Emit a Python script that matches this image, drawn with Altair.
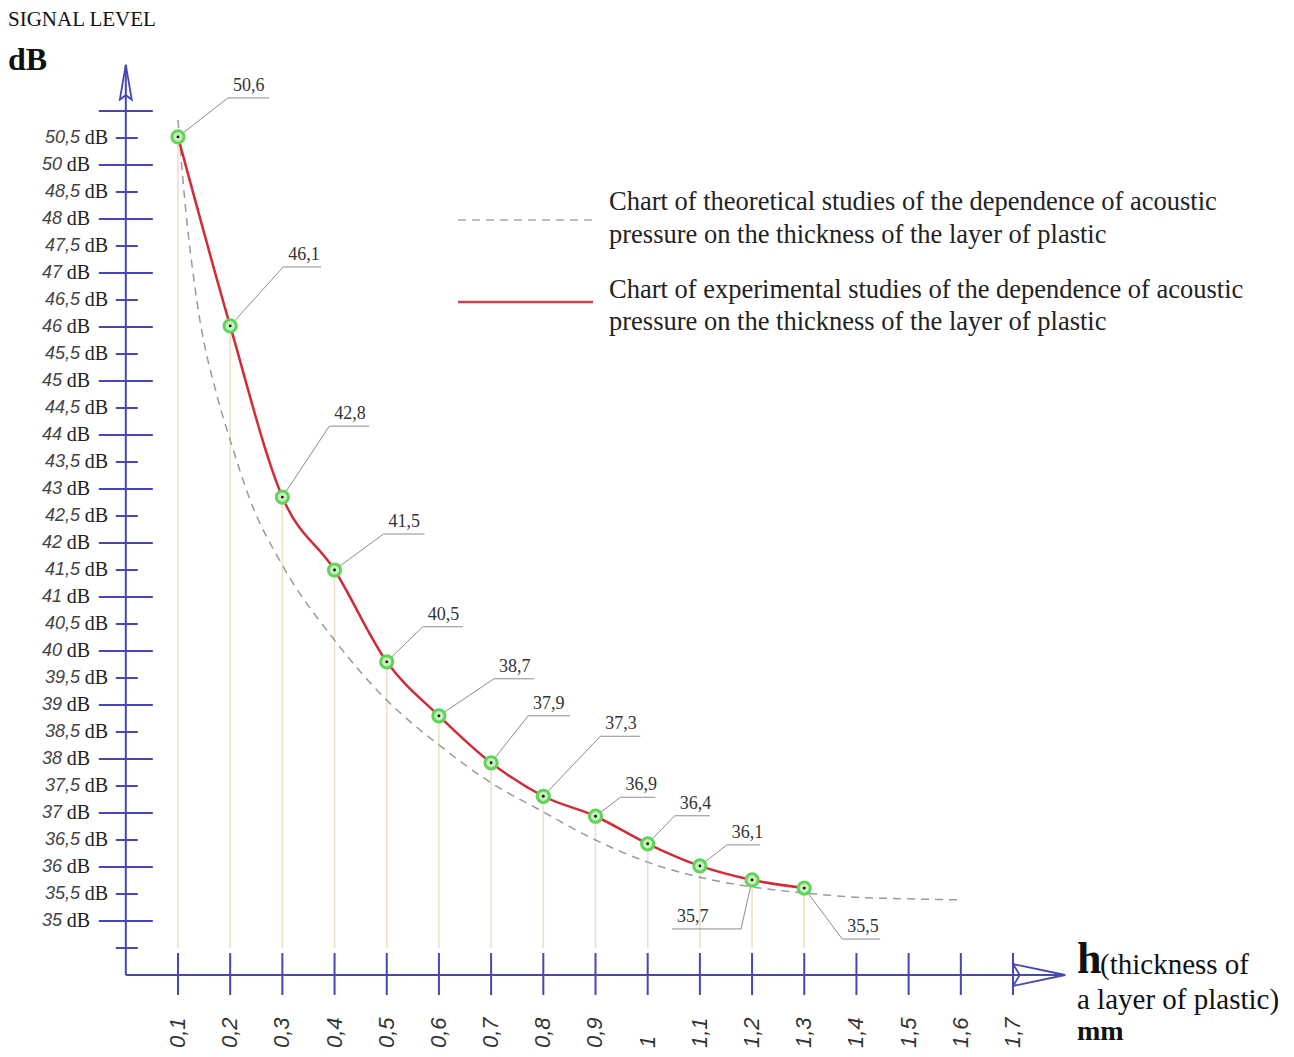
import altair as alt
import pandas as pd
import numpy as np

# ---------------- data ----------------
THICKNESS = [0.1, 0.2, 0.3, 0.4, 0.5, 0.6, 0.7, 0.8, 0.9, 1.0, 1.1, 1.2, 1.3]
EXPERIMENT_DB = [50.52, 46.02, 42.85, 41.5, 39.8, 38.8, 37.93, 37.31, 36.94, 36.43, 36.02, 35.76, 35.61]
CALLOUT_TEXT = ["50,6", "46,1", "42,8", "41,5", "40,5", "38,7", "37,9", "37,3", "36,9", "36,4", "36,1", "35,7", "35,5"]

THEORY_H = [0.1, 0.113, 0.136, 0.177, 0.2, 0.238, 0.3, 0.4, 0.5, 0.6, 0.7, 0.8, 0.9, 1.0, 1.1, 1.2, 1.3, 1.4, 1.5, 1.6]
THEORY_DB = [50.83, 48.35, 46.5, 44.65, 43.91, 42.8, 41.59, 40.2, 39.09, 38.26, 37.56, 37.02, 36.5, 36.09,
             35.81, 35.63, 35.52, 35.44, 35.41, 35.39]

Y_TICKS = [51, 50.5, 50, 48.5, 48, 47.5, 47, 46.5, 46, 45.5, 45, 44.5, 44, 43.5, 43, 42.5, 42, 41.5, 41,
           40.5, 40, 39.5, 39, 38.5, 38, 37.5, 37, 36.5, 36, 35.5, 35, 34.5]
Y_TICK_LABELS = ["", "50,5", "50", "48,5", "48", "47,5", "47", "46,5", "46", "45,5", "45", "44,5", "44",
                 "43,5", "43", "42,5", "42", "41,5", "41", "40,5", "40", "39,5", "39", "38,5", "38", "37,5",
                 "37", "36,5", "36", "35,5", "35", ""]
X_TICKS = [0.1, 0.2, 0.3, 0.4, 0.5, 0.6, 0.7, 0.8, 0.9, 1.0, 1.1, 1.2, 1.3, 1.4, 1.5, 1.6, 1.7]
X_TICK_LABELS = ["0,1", "0,2", "0,3", "0,4", "0,5", "0,6", "0,7", "0,8", "0,9", "1", "1,1", "1,2", "1,3",
                 "1,4", "1,5", "1,6", "1,7"]

LEGEND_THEORY = ["Chart of theoretical studies of the dependence of acoustic",
                 "pressure on the thickness of the layer of plastic"]
LEGEND_EXPER = ["Chart of experimental studies of the dependence of acoustic",
                "pressure on the thickness of the layer of plastic"]

# ---------------- layout / style ----------------
W, H = 1278, 1041
X_PX0, X_PX1 = 117.8, 1005.0          # pixel of h=0 and h=1.7
X_PER_UNIT = (X_PX1 - X_PX0) / 1.7
Y_TOP, Y_STEP = 103.0, 27.0           # pixel of the first y tick and spacing
AXIS_H_DB = 34.0                      # level where the h axis sits
AXIS_TOP_DB = 51.85
AXIS_RIGHT_H = 1.8

# callout elbows (pixel offsets from point) and underline length (negative = to the left)
CALLOUT_ELBOW = [(50, -39), (53, -59), (47, -71), (49, -36), (36, -35), (55, -37), (37, -47), (57, -60),
                 (25, -19), (27, -28), (27, -21), (-11, 49), (38, 51)]
CALLOUT_LINE = [41, 38, 40, 41, 40, 40, 42, 40, 35, 35, 33, -69, 38]

AXIS_BLUE = "#4646b4"
RED = "#d02c38"
GREEN = "#5fd35a"
SERIF = "Liberation Serif"
SANS = "Liberation Sans"

y_dom = Y_TICKS[::-1]
y_rng = [Y_TOP + Y_STEP * i for i in range(len(Y_TICKS))][::-1]


def ypx(v):
    d, r = y_dom, y_rng
    if v <= d[0]:
        i = 0
    elif v >= d[-1]:
        i = len(d) - 2
    else:
        i = int(np.searchsorted(d, v) - 1)
    return r[i] + (v - d[i]) * (r[i + 1] - r[i]) / (d[i + 1] - d[i])


def yval(p):
    d, r = y_dom, y_rng
    if p >= r[0]:
        i = 0
    elif p <= r[-1]:
        i = len(r) - 2
    else:
        i = next(k for k in range(len(r) - 1) if r[k] >= p >= r[k + 1])
    return d[i] + (p - r[i]) * (d[i + 1] - d[i]) / (r[i + 1] - r[i])


xs = alt.Scale(domain=[0, 1.7], range=[X_PX0, X_PX1], nice=False, zero=False)
ys = alt.Scale(domain=y_dom, range=y_rng, nice=False, zero=False)

X = lambda f: alt.X(f, type="quantitative", scale=xs, axis=None)
Y = lambda f: alt.Y(f, type="quantitative", scale=ys, axis=None)

exp_df = pd.DataFrame({"h": THICKNESS, "db": EXPERIMENT_DB, "txt": CALLOUT_TEXT})
th_df = pd.DataFrame({"h": THEORY_H, "db": THEORY_DB})
yt_df = pd.DataFrame({"db": Y_TICKS, "label": Y_TICK_LABELS,
                      "kind": ["long" if i % 2 == 0 else "short" for i in range(len(Y_TICKS))]})
yl_df = yt_df[yt_df["label"] != ""]
xt_df = pd.DataFrame({"h": X_TICKS, "label": X_TICK_LABELS})
one = pd.DataFrame({"a": [0]})

# callout geometry
lead_rows, txt_rows = [], []
for i, (h, db, t) in enumerate(zip(THICKNESS, EXPERIMENT_DB, CALLOUT_TEXT)):
    dx, dy = CALLOUT_ELBOW[i]
    L = CALLOUT_LINE[i]
    py = ypx(db) + dy
    ex = h + dx / X_PER_UNIT
    ux = h + (dx + L) / X_PER_UNIT
    lead_rows += [{"id": i, "k": 0, "h": h, "db": db},
                  {"id": i, "k": 1, "h": ex, "db": yval(py)},
                  {"id": i, "k": 2, "h": ux, "db": yval(py)}]
    txt_rows.append({"h": min(ex, ux) + 5 / X_PER_UNIT, "db": yval(py - 3), "txt": t})
lead_df = pd.DataFrame(lead_rows)
ctxt_df = pd.DataFrame(txt_rows)

layers = []

# drop lines
layers.append(alt.Chart(exp_df).mark_rule(color="#ecdfc2", strokeWidth=1.5).encode(
    x=X("h"), y=Y("db"), y2=alt.datum(34.5)))

# axes
layers.append(alt.Chart(one).mark_rule(color=AXIS_BLUE, strokeWidth=2).encode(
    x=alt.X(datum=0, type="quantitative", scale=xs, axis=None),
    y=alt.Y(datum=AXIS_H_DB, type="quantitative", scale=ys, axis=None), y2=alt.datum(AXIS_TOP_DB)))
layers.append(alt.Chart(one).mark_rule(color=AXIS_BLUE, strokeWidth=2).encode(
    x=alt.X(datum=0, type="quantitative", scale=xs, axis=None), x2=alt.datum(AXIS_RIGHT_H),
    y=alt.Y(datum=AXIS_H_DB, type="quantitative", scale=ys, axis=None)))

# y ticks
for kind, o1, o2 in [("long", -27, 27), ("short", -10, 12)]:
    layers.append(alt.Chart(yt_df).transform_filter(alt.datum.kind == kind).mark_rule(
        color=AXIS_BLUE, strokeWidth=2, xOffset=o1, x2Offset=o2).encode(
        x=alt.X(datum=0, type="quantitative", scale=xs, axis=None), x2=alt.datum(0), y=Y("db")))

# x ticks
layers.append(alt.Chart(xt_df).mark_rule(color=AXIS_BLUE, strokeWidth=2, yOffset=-22, y2Offset=20).encode(
    x=X("h"), y=alt.Y(datum=AXIS_H_DB, type="quantitative", scale=ys, axis=None), y2=alt.datum(AXIS_H_DB)))

# arrow heads
up_arrow = "M0,-1 L0.34,1 L0,0.75 L-0.34,1 Z"
right_arrow = "M1,0 L-1,-0.42 L-0.75,0 L-1,0.42 Z"
layers.append(alt.Chart(one).mark_point(shape=up_arrow, size=1225, filled=False, color=AXIS_BLUE,
                                         strokeWidth=1.8, opacity=1).encode(
    x=alt.X(datum=0, type="quantitative", scale=xs, axis=None),
    y=alt.Y(datum=yval(ypx(AXIS_TOP_DB) + 17), type="quantitative", scale=ys, axis=None)))
layers.append(alt.Chart(one).mark_point(shape=right_arrow, size=2700, filled=False, color=AXIS_BLUE,
                                         strokeWidth=1.8, opacity=1).encode(
    x=alt.X(datum=AXIS_RIGHT_H - 26 / X_PER_UNIT, type="quantitative", scale=xs, axis=None),
    y=alt.Y(datum=AXIS_H_DB, type="quantitative", scale=ys, axis=None)))

# y tick labels
for kind, right in [("long", 82), ("short", 100)]:
    sub = yl_df[yl_df["kind"] == kind]
    layers.append(alt.Chart(sub).mark_text(font=SERIF, fontSize=20, color="#222", align="right",
                                           baseline="middle").encode(
        x=alt.value(right), y=Y("db"), text=alt.value("dB")))
    layers.append(alt.Chart(sub).mark_text(font=SANS, fontStyle="italic", fontSize=18, color="#444",
                                           align="right", baseline="middle").encode(
        x=alt.value(right - 28), y=Y("db"), text="label:N"))

# x tick labels
layers.append(alt.Chart(xt_df).mark_text(font=SANS, fontStyle="italic", fontSize=22, color="#333",
                                         angle=270, align="left", baseline="middle").encode(
    x=X("h"), y=alt.value(1040), text="label:N"))

# theoretical curve
layers.append(alt.Chart(th_df).mark_line(color="#9a9a9a", strokeWidth=1.5, strokeDash=[8, 6],
                                         interpolate="monotone").encode(x=X("h"), y=Y("db")))
# experimental curve
layers.append(alt.Chart(exp_df).mark_line(color=RED, strokeWidth=2.5, interpolate="monotone").encode(
    x=X("h"), y=Y("db")))

# callout leaders
layers.append(alt.Chart(lead_df).mark_line(color="#8c8c8c", strokeWidth=1).encode(
    x=X("h"), y=Y("db"), detail="id:N", order="k:Q"))
layers.append(alt.Chart(ctxt_df).mark_text(font=SERIF, fontSize=18, color="#333", align="left",
                                           baseline="bottom").encode(
    x=X("h"), y=Y("db"), text="txt:N"))

# points
layers.append(alt.Chart(exp_df).mark_point(shape="circle", size=150, filled=True, color="#c8f0bd",
                                           stroke=GREEN, strokeWidth=3, opacity=1).encode(
    x=X("h"), y=Y("db")))
layers.append(alt.Chart(exp_df).mark_point(shape="circle", size=8, filled=True, color="#111",
                                           opacity=1).encode(x=X("h"), y=Y("db")))

# legend
layers.append(alt.Chart(one).mark_rule(color="#a8a8a8", strokeWidth=1.5, strokeDash=[8, 6]).encode(
    x=alt.value(450), x2=alt.value(587), y=alt.value(212)))
layers.append(alt.Chart(one).mark_rule(color="#d04050", strokeWidth=2.5).encode(
    x=alt.value(450), x2=alt.value(585), y=alt.value(294)))
for txt, yy in [(LEGEND_THEORY[0], 194), (LEGEND_THEORY[1], 227), (LEGEND_EXPER[0], 282),
                (LEGEND_EXPER[1], 314)]:
    layers.append(alt.Chart(one).mark_text(font=SERIF, fontSize=26.5, color="#222", align="left",
                                           baseline="middle").encode(
        x=alt.value(601), y=alt.value(yy), text=alt.value(txt)))

# titles
titles = [("SIGNAL LEVEL", 0, 12, 21, "normal", "middle"), ("dB", 0, 52, 32, "bold", "middle"),
          ("h", 1069, 952, 44, "bold", "middle"), ("(thickness of", 1092, 957, 29, "normal", "middle"),
          ("a layer of plastic)", 1069, 992, 29, "normal", "middle"),
          ("mm", 1069, 1024, 28, "bold", "middle")]
for txt, xx, yy, fs, fw, bl in titles:
    layers.append(alt.Chart(one).mark_text(font=SERIF, fontSize=fs, fontWeight=fw, color="#111",
                                           align="left", baseline=bl).encode(
        x=alt.value(xx), y=alt.value(yy), text=alt.value(txt)))

chart = alt.layer(*layers).properties(
    width=W, height=H, padding=0, autosize=alt.AutoSizeParams(type="none")
).configure_view(stroke=None)

chart.save("out.html", embed_options={"renderer": "svg", "actions": False})
